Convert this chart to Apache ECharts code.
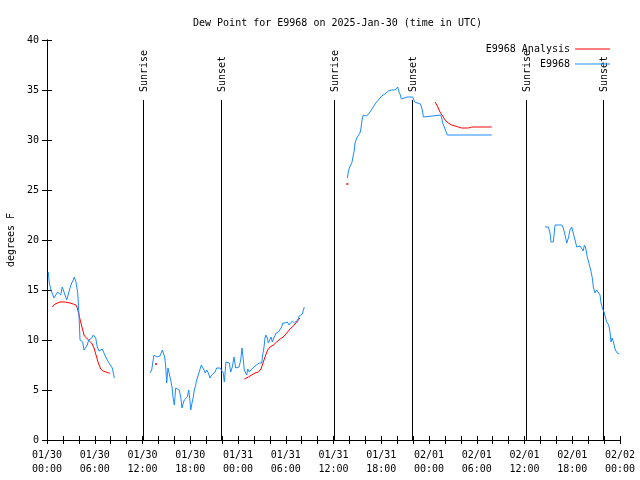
<!DOCTYPE html>
<html><head><meta charset="utf-8">
<script src="https://cdn.jsdelivr.net/npm/echarts@6/dist/echarts.min.js"></script>
<style>html,body{margin:0;padding:0;background:#fff}#c{width:640px;height:480px}</style>
</head><body><div id="c"></div>
<script>
// hours since 2025-01-30 00:00 UTC; null marks a gap in the record
const obsHours = [0.16,0.29,0.50,0.72,0.88,1.13,1.34,1.55,1.72,1.92,2.14,2.35,2.48,2.68,2.89,3.10,3.30,3.43,3.64,3.86,4.02,4.15,4.23,4.49,4.65,4.90,5.06,5.24,5.40,5.62,5.82,5.94,6.12,6.32,6.53,6.75,6.95,7.16,7.38,7.58,7.79,8.00,8.21,8.33,8.46,
 null,
 12.94,13.16,13.28,13.45,13.62,13.79,13.99,14.20,14.33,14.49,14.62,14.79,14.92,15.04,15.20,15.37,15.54,15.71,15.83,16.00,16.17,16.42,16.62,16.80,16.96,17.13,17.25,17.47,17.63,17.81,17.93,18.06,18.22,18.38,18.51,18.69,18.81,19.01,19.23,19.39,19.57,19.73,19.89,20.07,20.27,20.48,20.70,20.90,21.11,21.32,21.74,21.95,22.15,22.28,22.49,22.71,22.91,23.08,23.29,23.50,23.71,23.91,24.13,24.34,24.50,24.67,24.79,24.97,25.09,25.22,25.42,25.63,25.85,26.05,26.30,26.48,26.68,26.85,26.98,27.10,27.27,27.39,27.52,27.68,27.81,27.98,28.15,28.31,28.49,28.65,28.81,29.07,29.28,29.49,29.62,29.91,30.20,30.41,30.57,30.82,31.08,31.29,31.50,31.70,31.92,32.08,32.21,32.33,
 null,
 37.74,37.86,37.99,38.20,38.33,38.49,38.62,38.70,38.83,38.99,39.24,39.33,39.46,39.58,39.75,39.96,40.17,40.38,40.59,40.80,41.00,41.22,41.43,41.63,41.85,42.06,42.26,42.47,42.69,42.89,43.31,43.73,43.94,44.07,44.23,44.40,44.52,44.70,45.24,45.95,46.03,46.20,46.37,46.93,47.09,47.21,47.29,47.46,49.47,49.60,49.72,49.92,50.14,50.30,55.88,
 null,
 62.58,63.00,63.21,63.33,63.62,63.84,63.96,64.25,64.68,64.88,65.09,65.31,65.51,65.72,65.93,66.14,66.35,66.56,66.76,66.98,67.19,67.39,67.52,67.69,67.89,68.15,68.32,68.52,68.65,68.86,69.07,69.28,69.49,69.62,69.78,69.99,70.16,70.33,70.58,70.75,70.87,71.00,71.17,71.29,71.41,71.66,71.91];
const obsValues = [16.8,15.7,15.0,15.0,14.2,14.1,14.8,14.7,14.5,15.3,14.8,14.3,14.0,14.0,15.2,15.7,16.0,16.3,15.8,14.7,12.5,10.0,9.8,9.8,9.0,9.1,9.5,10.0,9.9,10.2,10.5,10.7,10.2,9.3,8.9,9.0,9.1,8.7,8.3,8.0,7.7,7.6,7.2,6.7,6.2,
 null,
 6.7,7.0,7.7,8.5,8.6,8.3,8.5,8.4,8.6,9.0,8.8,8.3,7.3,5.7,7.2,7.0,6.0,5.3,4.3,3.5,5.2,5.3,5.0,4.3,3.2,3.7,4.0,4.1,4.3,5.0,4.2,3.0,3.7,4.3,5.0,5.5,6.0,6.5,6.7,7.5,7.3,7.0,6.7,7.0,6.7,6.2,6.5,6.7,6.8,7.2,7.2,7.2,6.7,5.8,7.8,7.8,7.7,6.8,7.3,8.3,7.2,7.2,7.3,8.0,9.2,8.0,7.0,7.0,6.5,7.1,6.8,7.0,7.2,7.4,7.5,7.3,7.7,7.9,7.7,8.5,9.3,10.2,10.5,10.2,9.7,10.0,10.3,9.8,10.2,10.0,10.7,10.8,11.0,11.3,11.7,11.7,11.8,11.5,11.3,11.9,11.7,11.7,12.0,12.4,12.5,12.6,12.8,13.3,
 null,
 26.2,26.8,27.2,27.3,27.8,28.5,29.0,29.7,30.0,30.3,30.1,30.7,31.2,32.0,32.5,32.7,32.4,32.5,32.8,32.9,33.3,33.6,33.8,34.0,34.2,34.4,34.5,34.6,34.7,34.9,35.0,35.0,35.2,35.3,34.8,34.5,34.1,34.3,34.3,34.3,34.2,33.8,33.6,33.6,33.2,32.8,32.3,32.5,32.5,32.2,31.7,31.3,31.1,30.5,30.5,
 null,
 21.3,21.3,20.7,19.8,19.8,21.5,21.6,21.5,21.5,21.2,20.5,19.7,20.2,21.0,21.3,21.2,20.0,19.3,19.2,19.4,19.4,18.9,19.5,19.2,18.3,17.5,17.0,16.2,15.3,14.7,15.0,15.0,14.5,13.7,13.2,12.8,12.3,11.8,11.5,10.8,9.8,10.2,9.8,10.0,9.0,8.7,8.6];

const anaHours = [0.67,1.01,1.63,2.26,2.89,3.30,3.64,3.81,4.02,4.23,4.49,4.69,4.99,5.32,5.62,5.91,6.16,6.45,6.75,7.07,7.41,7.70,7.92,
 null,
 24.79,25.30,25.72,26.14,26.55,26.89,27.05,27.27,27.48,27.73,28.02,28.44,28.86,29.28,29.69,30.12,30.54,30.95,31.29,31.58,31.79,
 null,
 48.76,49.05,49.38,49.72,50.01,50.43,50.86,51.27,51.68,52.11,52.53,52.94,53.37,53.99,54.62,55.25,55.88];
const anaValues = [13.3,13.6,13.8,13.8,13.7,13.6,13.5,13.2,12.5,11.8,11.0,10.4,10.2,9.9,9.7,9.2,8.5,7.7,7.1,6.9,6.8,6.7,6.7,
 null,
 6.1,6.3,6.5,6.7,6.8,7.1,7.5,8.0,8.5,9.0,9.3,9.5,9.8,10.1,10.3,10.7,11.1,11.4,11.7,12.0,12.2,
 null,
 33.8,33.4,32.8,32.4,32.0,31.7,31.5,31.4,31.3,31.2,31.2,31.2,31.3,31.3,31.3,31.3,31.3];
// isolated analysis points
const anaDotHours = [13.70, 37.74];
const anaDotValues = [7.6, 25.6];

// sun events (hours since 2025-01-30 00:00 UTC)
const sunHours = [12.05, 21.85, 36.05, 45.85, 60.2, 69.9];
const sunLabels = ['Sunrise','Sunset','Sunrise','Sunset','Sunrise','Sunset'];

const xTickDays = ['01/30','01/31','02/01','02/02'];
const yTicks = [0,5,10,15,20,25,30,35,40];

const FONT = '"DejaVu Sans Mono", "Liberation Mono", monospace';

function pairs(h, v) {
  const out = [];
  for (let i = 0; i < h.length; i++) {
    if (h[i] === null) { out.push([h[i-1], null]); }
    else out.push([h[i], v[i]]);
  }
  return out;
}

const chart = echarts.init(document.getElementById('c'), null, {renderer: 'canvas'});
const axisCommon = {
  axisLine: {show: true, lineStyle: {color: '#000', width: 1}},
  splitLine: {show: false}
};
chart.setOption({
  animation: false,
  backgroundColor: '#fff',
  textStyle: {fontFamily: FONT, fontSize: 10, color: '#000'},
  title: {
    text: 'Dew Point for E9968 on 2025-Jan-30 (time in UTC)',
    left: 188, top: 13,
    textStyle: {fontFamily: FONT, fontSize: 10, fontWeight: 'normal', color: '#000'}
  },
  grid: {left: 47, right: 20, top: 40, bottom: 40, containLabel: false, outerBoundsMode: 'none'},
  legend: {
    orient: 'vertical', right: 25, top: 38, align: 'right',
    itemWidth: 35, itemHeight: 1, itemGap: 3,
    icon: 'rect',
    textStyle: {fontFamily: FONT, fontSize: 10, color: '#000', lineHeight: 12},
    data: ['E9968 Analysis', 'E9968'],
    selectedMode: false
  },
  xAxis: [{
    type: 'value', min: 0, max: 72, interval: 6, position: 'bottom',
    ...axisCommon,
    axisTick: {show: true, inside: true, length: 4, lineStyle: {color: '#000'}},
    minorTick: {show: true, splitNumber: 3, length: 4, lineStyle: {color: '#000'}},
    axisLabel: {
      margin: 8, fontFamily: FONT, fontSize: 10, color: '#000', lineHeight: 14,
      formatter: function (v) {
        const day = xTickDays[Math.floor(v / 24)];
        const hh = String(v % 24).padStart(2, '0');
        return day + '\n' + hh + ':00';
      }
    }
  }, {
    type: 'value', min: 0, max: 72, interval: 6, position: 'top',
    ...axisCommon,
    axisTick: {show: true, inside: true, length: 4, lineStyle: {color: '#000'}},
    minorTick: {show: true, splitNumber: 3, length: 4, lineStyle: {color: '#000'}},
    axisLabel: {show: false}
  }],
  yAxis: [{
    type: 'value', min: 0, max: 40, interval: 5, position: 'left',
    ...axisCommon,
    name: 'degrees F', nameLocation: 'middle', nameGap: 31, nameRotate: 90,
    nameTextStyle: {fontFamily: FONT, fontSize: 10, color: '#000'},
    axisTick: {show: true, inside: true, length: 5, lineStyle: {color: '#000'}},
    axisLabel: {margin: 8, fontFamily: FONT, fontSize: 10, color: '#000',
      formatter: v => yTicks.includes(v) ? String(v) : ''}
  }, {
    type: 'value', min: 0, max: 40, interval: 5, position: 'right',
    ...axisCommon,
    axisTick: {show: true, inside: true, length: 5, lineStyle: {color: '#000'}},
    axisLabel: {show: false}
  }],
  series: [
    {
      type: 'custom', name: 'sun', silent: true, z: 1,
      data: sunHours.map((h, i) => [h, sunLabels[i]]),
      encode: {x: 0},
      renderItem: function (params, api) {
        const h = api.value(0);
        const label = sunLabels[params.dataIndex];
        const p0 = api.coord([h, 0]);
        const p1 = api.coord([h, 34.0]);
        const pl = api.coord([h, 34.8]);
        return {type: 'group', children: [
          {type: 'line', shape: {x1: Math.round(p0[0]) + 0.5, y1: p0[1], x2: Math.round(p1[0]) + 0.5, y2: p1[1]},
           style: {stroke: '#000', lineWidth: 1}},
          {type: 'text', x: p0[0] + 1.5, y: pl[1], rotation: Math.PI / 2,
           style: {text: label, font: '10px ' + FONT, fill: '#000', align: 'left', verticalAlign: 'middle'}}
        ]};
      }
    },
    {
      type: 'line', name: 'E9968 Analysis', data: pairs(anaHours, anaValues),
      showSymbol: false, symbol: 'none', connectNulls: false, z: 3,
      lineStyle: {color: '#ff0000', width: 1}, itemStyle: {color: '#ff0000'}
    },
    {
      type: 'scatter', name: 'E9968 Analysis', data: anaDotHours.map((h, i) => [h, anaDotValues[i]]),
      symbol: 'rect', symbolSize: 2, z: 3, itemStyle: {color: '#ff0000'}
    },
    {
      type: 'line', name: 'E9968', data: pairs(obsHours, obsValues),
      showSymbol: false, symbol: 'none', connectNulls: false, z: 4,
      lineStyle: {color: '#1a8cff', width: 1}, itemStyle: {color: '#1a8cff'}
    }
  ]
});
</script>
</body></html>
